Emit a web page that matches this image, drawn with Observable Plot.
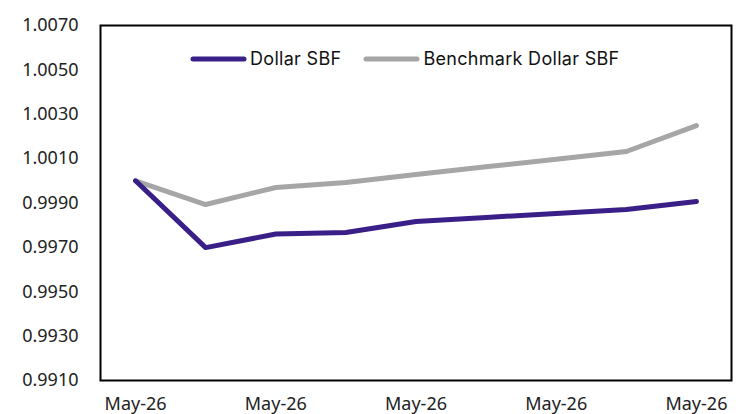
<!DOCTYPE html>
<html>
<head>
<meta charset="utf-8">
<script src="https://cdn.jsdelivr.net/npm/d3@7"></script>
<script src="https://cdn.jsdelivr.net/npm/@observablehq/plot@0.6"></script>
<style>
  html, body { margin: 0; padding: 0; background: #fff; }
  #wrap { position: relative; width: 748px; height: 414px; overflow: hidden; }
  #legend { position: absolute; left: 190px; top: 48px; display: flex; align-items: center;
            font-family: Inter, "Noto Sans", sans-serif; font-size: 18px; letter-spacing: 0.3px; color: #111; }
  #legend .item { display: flex; align-items: center; margin-right: 22px; }
  #legend svg { margin-right: 3px; }
  .yax text { font-size: 18px; }
  .xax text { font-size: 18px; }
</style>
</head>
<body>
<div id="wrap">
  <div id="chart"></div>
  <div id="legend"></div>
</div>
<script>
const dayIndex = [0, 1, 2, 3, 4, 5, 6, 7, 8];
const dayLabels = ["May-26", "May-26", "May-26", "May-26", "May-26", "May-26", "May-26", "May-26", "May-26"];
const dollarSBF = [1.0000, 0.99699, 0.99760, 0.99767, 0.99817, 0.99835, 0.99853, 0.99871, 0.99907];
const benchmarkSBF = [1.0000, 0.99893, 0.99970, 0.99992, 1.00028, 1.00063, 1.00097, 1.00132, 1.00249];
const seriesNames = ["Dollar SBF", "Benchmark Dollar SBF"];
const seriesColors = ["#3a1f88", "#a6a6a6"];
const yTicks = [0.9910, 0.9930, 0.9950, 0.9970, 0.9990, 1.0010, 1.0030, 1.0050, 1.0070];
const xTicks = [0, 2, 4, 6, 8];

const rows = [];
dayIndex.forEach((d, i) => {
  rows.push({day: d, value: benchmarkSBF[i], series: seriesNames[1]});
});
dayIndex.forEach((d, i) => {
  rows.push({day: d, value: dollarSBF[i], series: seriesNames[0]});
});

const chart = Plot.plot({
  width: 748,
  height: 414,
  marginLeft: 100,
  marginRight: 17,
  marginTop: 25,
  marginBottom: 34,
  style: {fontFamily: "'Noto Sans', 'Open Sans', sans-serif", fontSize: "17px", color: "#222", background: "#fff"},
  x: {domain: [-0.5, 8.5], label: null},
  y: {domain: [0.991, 1.007], label: null},
  color: {domain: seriesNames, range: seriesColors},
  marks: [
    Plot.axisX({ticks: xTicks, tickFormat: i => dayLabels[i], tickSize: 0, tickPadding: 17, className: "xax", label: null}),
    Plot.axisY({ticks: yTicks, tickFormat: v => v.toFixed(4), tickSize: 0, tickPadding: 22, className: "yax", label: null}),
    Plot.line(rows, {x: "day", y: "value", z: "series", stroke: "series", strokeWidth: 5, strokeLinecap: "round", strokeLinejoin: "round"}),
    Plot.frame({stroke: "#000", strokeWidth: 2})
  ]
});
document.getElementById("chart").appendChild(chart);

const legend = document.getElementById("legend");
seriesNames.forEach((name, i) => {
  const item = document.createElement("div");
  item.className = "item";
  item.innerHTML = `<svg width="57" height="10"><line x1="3" y1="5" x2="54" y2="5" stroke="${seriesColors[i]}" stroke-width="5" stroke-linecap="round"/></svg><span>${name}</span>`;
  legend.appendChild(item);
});
</script>
</body>
</html>
